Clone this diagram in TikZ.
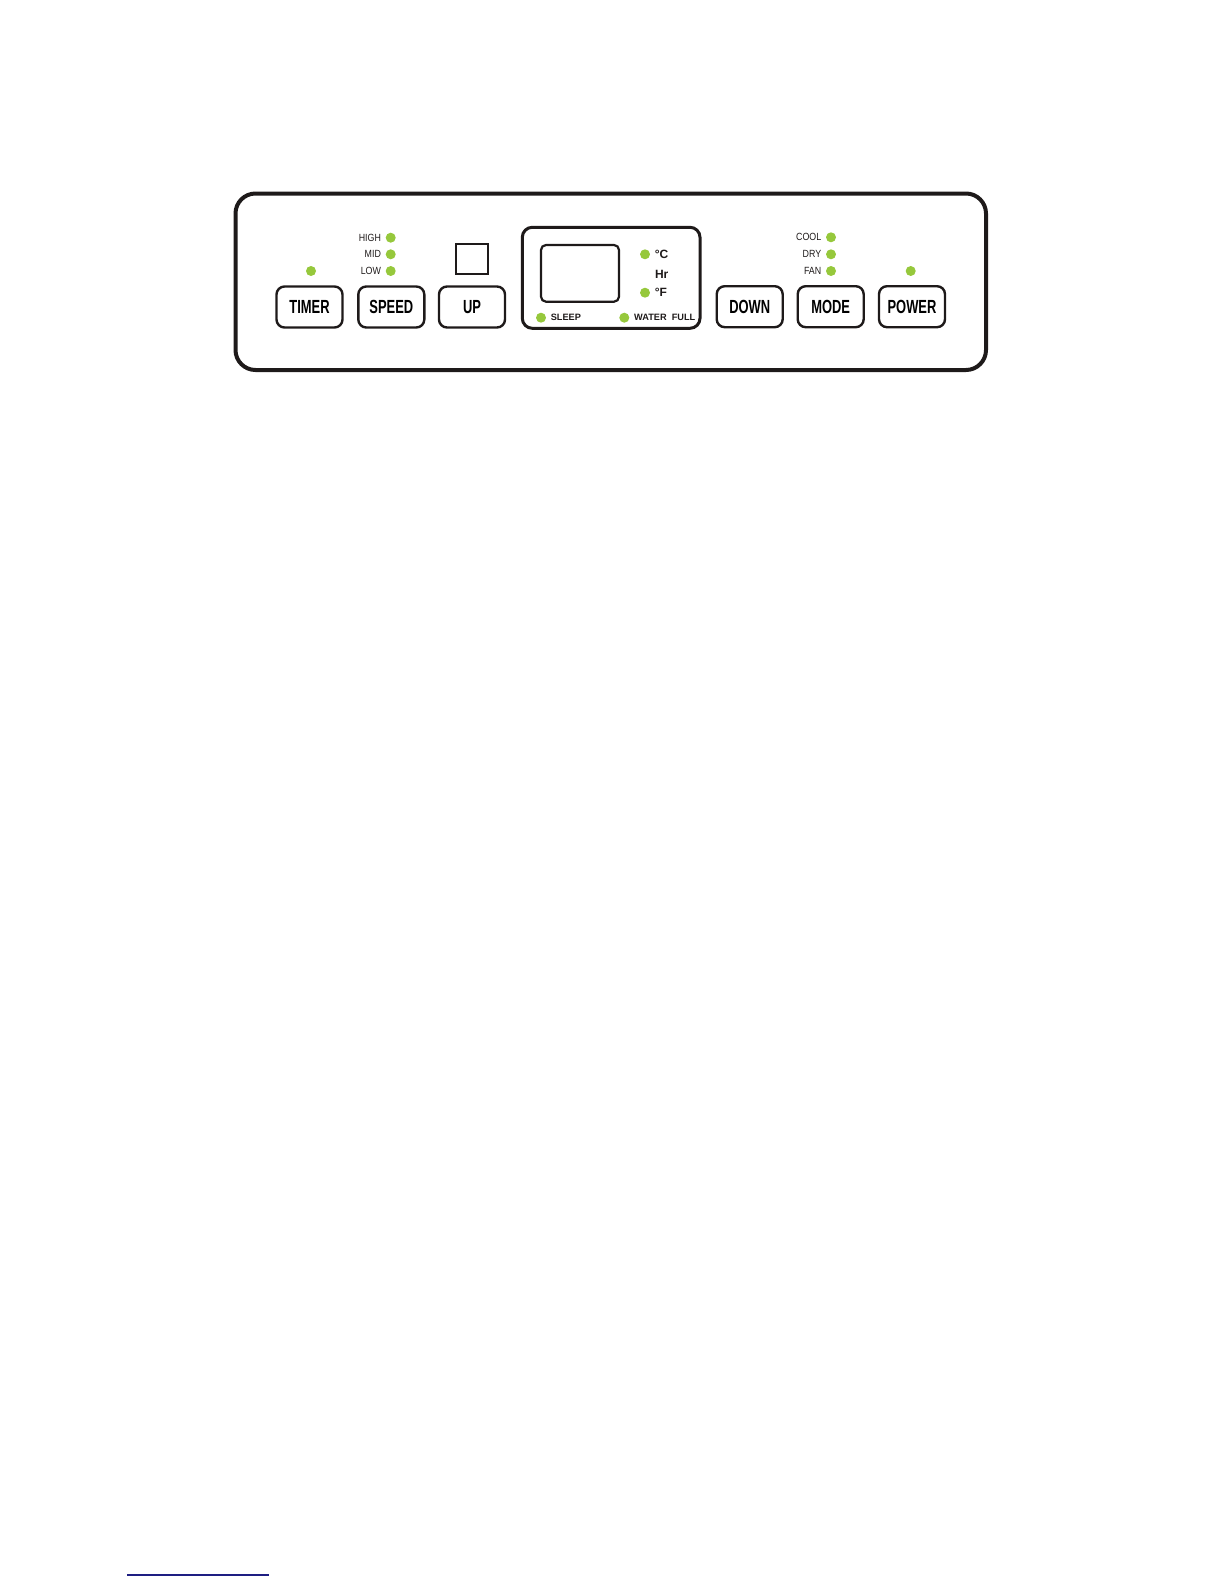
\documentclass[tikz,border=0pt]{standalone}
\usepackage{fontspec}
\newfontfamily\boutonfont[FakeStretch=0.68]{Liberation Sans}
\newfontfamily\petitefont[FakeStretch=0.85]{Liberation Sans}
\newfontfamily\ecranfont{Liberation Sans}
\definecolor{vert}{RGB}{150,200,60}
\definecolor{trait}{RGB}{30,26,26}
\definecolor{lien}{RGB}{30,30,130}

\begin{document}
\begin{tikzpicture}[x=0.5pt, y=-0.5pt]
\tikzset{bouton/.style={draw=trait, line width=1.2pt, rounded corners=4pt, minimum width=33pt, minimum height=20.5pt, inner sep=0pt, font=\boutonfont\bfseries\fontsize{9.5}{10}\selectfont}}
\tikzset{led/.style={circle, fill=vert, inner sep=0pt, minimum size=5pt}}
\tikzset{etiq/.style={inner xsep=2pt, inner ysep=0pt, text=trait, font=\petitefont\fontsize{5.2}{6}\selectfont}}
\tikzset{etiqecran/.style={inner xsep=2pt, inner ysep=0pt, text=trait, font=\ecranfont\bfseries\fontsize{4.6}{5}\selectfont}}
\tikzset{unite/.style={inner xsep=2pt, inner ysep=0pt, text=trait, font=\ecranfont\bfseries\fontsize{6}{7}\selectfont}}
\useasboundingbox (0,0) rectangle (1224,1584);
% panneau
\draw[trait, line width=2pt, rounded corners=10pt] (235.5,193.5) rectangle (986,370);
% ecran
\draw[trait, line width=1.5pt, rounded corners=5pt] (522.3,227.3) rectangle (700,328.3);
\draw[trait, line width=1.1pt, rounded corners=2.5pt] (541,245) rectangle (619,301.7);
\draw[trait, line width=1pt] (456,244.3) rectangle (487.7,274.3);
% boutons
\node[bouton] (timer) at (309.5,307) {TIMER};
\node[bouton] (speed) at (391.3,307) {SPEED};
\node[bouton] (up) at (472,307) {UP};
\node[bouton] (down) at (749.7,306.7) {DOWN};
\node[bouton] (mode) at (830.7,306.7) {MODE};
\node[bouton] (power) at (912,306.7) {POWER};
% voyants
\node[led] (L1) at (311,271) {};
\node[led] (L2) at (390.7,237.7) {};
\node[led] (L3) at (390.7,254.3) {};
\node[led] (L4) at (390.7,271) {};
\node[led] (L5) at (831,237.3) {};
\node[led] (L6) at (831,254.3) {};
\node[led] (L7) at (831,271) {};
\node[led] (L8) at (910.7,271) {};
\node[led] (L9) at (645,254.3) {};
\node[led] (L10) at (645,292.7) {};
\node[led] (L11) at (541,317.7) {};
\node[led] (L12) at (624.3,317.7) {};
% textes
\node[etiq, left] (T2) at (L2.west) {HIGH};
\node[etiq, left] (T3) at (L3.west) {MID};
\node[etiq, left] (T4) at (L4.west) {LOW};
\node[etiq, left] (T5) at (L5.west) {COOL};
\node[etiq, left] (T6) at (L6.west) {DRY};
\node[etiq, left] (T7) at (L7.west) {FAN};
\node[unite, right] (T9) at (L9.east) {°C};
\node[unite] (T13) at (661.7,274) {Hr};
\node[unite, right] (T10) at (L10.east) {°F};
\node[etiqecran, right] (T11) at (L11.east) {SLEEP};
\node[etiqecran, right] (T12) at (L12.east) {WATER\ \ FULL};
\draw[lien, line width=0.7pt] (127,1575) -- (269,1575);
\end{tikzpicture}
\end{document}
